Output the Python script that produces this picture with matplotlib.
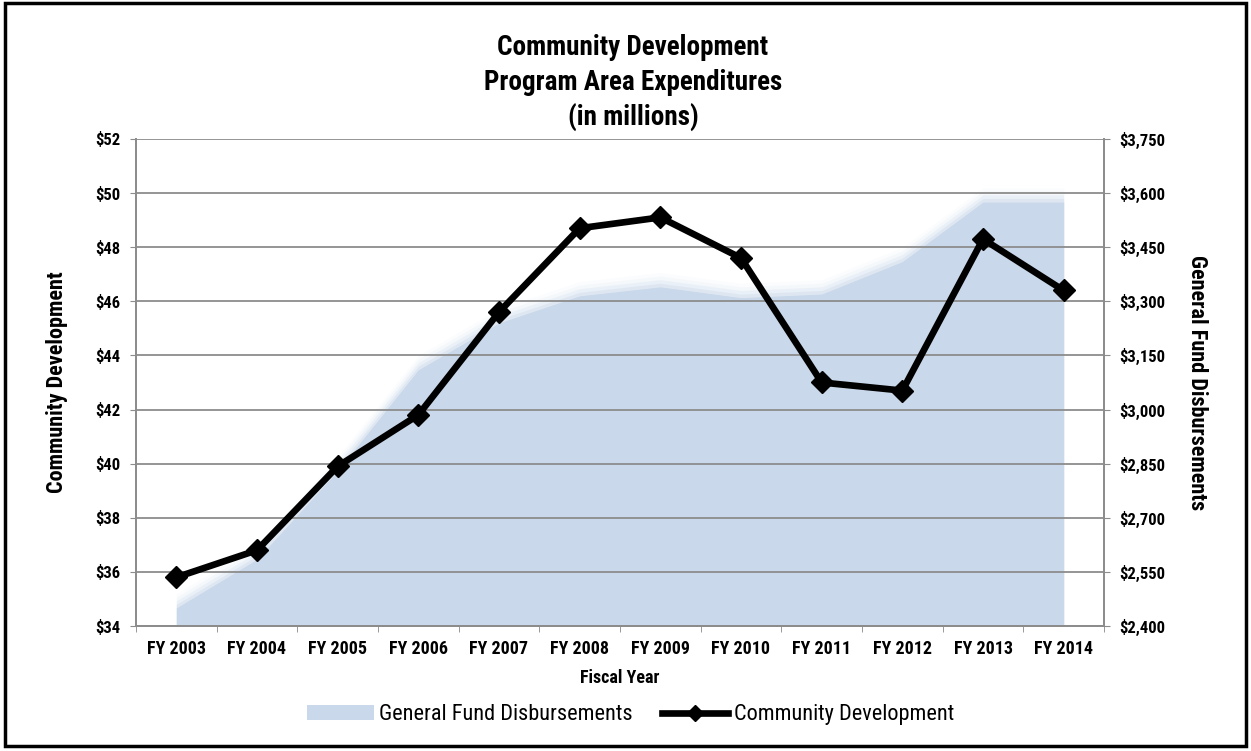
import matplotlib
matplotlib.use("Agg")
import matplotlib.pyplot as plt
from matplotlib.patches import Rectangle, Patch
from matplotlib.lines import Line2D
from matplotlib.ticker import FuncFormatter, FixedLocator

FONTS = ['Roboto Condensed', 'IBM Plex Sans Condensed', 'Open Sans Condensed', 'DejaVu Sans']
plt.rcParams['font.family'] = FONTS

categories = ["FY 2003", "FY 2004", "FY 2005", "FY 2006", "FY 2007", "FY 2008",
              "FY 2009", "FY 2010", "FY 2011", "FY 2012", "FY 2013", "FY 2014"]
community_dev = [35.8, 36.8, 39.9, 41.8, 45.6, 48.7, 49.1, 47.6, 43.0, 42.7, 48.3, 46.4]
general_fund = [2450, 2585, 2830, 3110, 3240, 3315, 3340, 3310, 3320, 3410, 3575, 3575]

left_ticks = [34, 36, 38, 40, 42, 44, 46, 48, 50, 52]
right_ticks = [2400, 2550, 2700, 2850, 3000, 3150, 3300, 3450, 3600, 3750]

fig = plt.figure(figsize=(12.51, 7.51), dpi=100)
fig.patches.append(Rectangle((0.004, 0.006), 0.992, 0.99, transform=fig.transFigure,
                             fill=False, edgecolor='black', linewidth=2.5))

ax1 = fig.add_axes([0.1087, 0.1664, 0.7738, 0.6486])
ax2 = ax1.twinx()
ax1.set_zorder(ax2.get_zorder() + 1)
ax1.patch.set_visible(False)

x = list(range(len(categories)))
area_color = '#c9d8ea'
ax2.fill_between(x, right_ticks[0], general_fund, color=area_color, linewidth=0)
for off, a in [(10, 0.35), (20, 0.22), (30, 0.12), (40, 0.06)]:
    ax2.fill_between(x, right_ticks[0], [v + off for v in general_fund],
                     color=area_color, alpha=a, linewidth=0)
ax2.set_ylim(right_ticks[0], right_ticks[-1])
ax2.yaxis.set_major_locator(FixedLocator(right_ticks))
ax2.yaxis.set_major_formatter(FuncFormatter(lambda v, p: "${:,.0f}".format(v)))

ax1.plot(x, community_dev, color='black', linewidth=4.8, marker='D', markersize=11,
         zorder=5)
ax1.set_ylim(left_ticks[0], left_ticks[-1])
ax1.set_xlim(-0.5, len(categories) - 0.5)
ax1.yaxis.set_major_locator(FixedLocator(left_ticks))
ax1.yaxis.set_major_formatter(FuncFormatter(lambda v, p: "${:.0f}".format(v)))
ax1.set_xticks(x)
ax1.set_xticklabels(categories)
ax1.set_xticks([i + 0.5 for i in range(-1, len(categories))], minor=True)
ax1.tick_params(axis='x', which='major', length=0, pad=10)
ax1.tick_params(axis='x', which='minor', length=4, color='#888888')
ax1.grid(axis='y', color='#8c8c8c', linewidth=1.3, zorder=1)
ax1.set_axisbelow(True)

for ax in (ax1, ax2):
    for s in ax.spines.values():
        s.set_color('#8c8c8c')
        s.set_linewidth(1.3)
    ax.spines['top'].set_visible(False)
    ax.tick_params(axis='y', length=4, color='#8c8c8c', labelsize=12, pad=7)
    for lab in ax.get_yticklabels():
        lab.set_fontweight('bold')
for lab in ax1.get_xticklabels():
    lab.set_fontweight('bold')
    lab.set_fontsize(13)

ax1.set_ylabel("Community Development", fontsize=16, fontweight='bold')
ax1.yaxis.set_label_coords(-0.070, 0.5)
ax2.set_ylabel("General Fund Disbursements", fontsize=16, fontweight='bold', rotation=270,
               va='center')
ax2.yaxis.set_label_coords(1.096, 0.5)
ax1.set_xlabel("Fiscal Year", fontsize=13, fontweight='bold', va='center')
ax1.xaxis.set_label_coords(0.5, -0.107)

fig.text(0.506, 0.955, "Community Development\nProgram Area Expenditures\n(in millions)",
         ha='center', va='top', fontsize=19.5, fontweight='bold', linespacing=1.38)

handles = [Patch(facecolor=area_color, edgecolor='none', label="General Fund Disbursements"),
           Line2D([0], [0], color='black', linewidth=4.8, marker='D', markersize=8,
                  label="Community Development")]
fig.legend(handles=handles, loc='center', bbox_to_anchor=(0.504, 0.048), ncol=2,
           frameon=False, fontsize=16, handlelength=3.0, columnspacing=1.3,
           handletextpad=0.25)

fig.savefig("out.png", dpi=100)
